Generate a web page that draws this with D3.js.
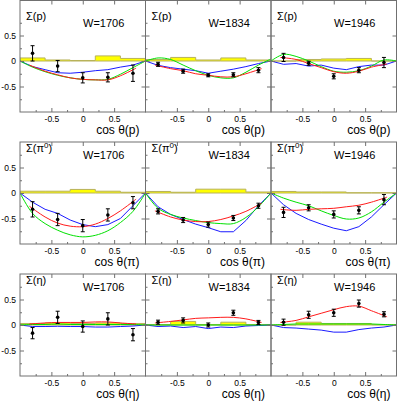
<!DOCTYPE html>
<html>
<head>
<meta charset="utf-8">
<script src="https://cdn.jsdelivr.net/npm/d3@7"></script>
<style>
  body { margin: 0; background: #fff; }
  text { font-family: "Liberation Sans", Arial, sans-serif; fill: #000; }
</style>
</head>
<body>
<script>
  'use strict';

  // ---- data ----
  var energies = [1706, 1834, 1946];
  var cosX     = [-0.8, -0.4, 0, 0.4, 0.8];
  var curveX   = [-1, -0.8, -0.6, -0.4, -0.2, 0, 0.2, 0.4, 0.6, 0.8, 1];
  var redX     = [-0.85, -0.6, -0.4, -0.2, 0, 0.2, 0.4, 0.6, 0.85];
  var binEdges = [-1, -0.6, -0.2, 0.2, 0.6, 1];
  var xTickMajor = [-0.5, 0, 0.5];
  var xTickMinor = [-0.75, -0.25, 0.25, 0.75];
  var yTickMajor = [-0.5, 0, 0.5];
  var yTickMinor = [-0.75, -0.25, 0.25, 0.75];

  // Sigma(p)
  var sigmaP = [[0.15, -0.10, -0.33, -0.32, -0.24], [-0.065, -0.20, -0.28, -0.27, -0.18], [0.07, -0.045, -0.30, -0.18, -0.03]];
  var errP   = [[0.15, 0.11, 0.10, 0.09, 0.16], [0.04, 0.04, 0.03, 0.04, 0.05], [0.08, 0.04, 0.05, 0.05, 0.10]];
  var sysP   = [[0.06, 0.02, 0.01, 0.10, 0.05], [0.03, 0.07, 0.02, 0.06, 0.02], [0.0, 0.03, 0.04, 0.05, 0.0]];
  var redP   = [[-0.08, -0.2, -0.27, -0.33, -0.36, -0.37, -0.37, -0.29, -0.14],
                [-0.08, -0.15, -0.19, -0.25, -0.28, -0.31, -0.31, -0.25, -0.15],
                [0.07, 0.03, -0.05, -0.13, -0.21, -0.24, -0.2, -0.12, -0.06]];
  var greenP = [[0, -0.12, -0.21, -0.28, -0.33, -0.36, -0.37, -0.36, -0.26, -0.13, 0],
                [0, 0.06, 0.03, -0.08, -0.19, -0.28, -0.33, -0.33, -0.22, -0.08, 0.04],
                [0, 0.13, 0.09, 0, -0.11, -0.2, -0.22, -0.19, -0.1, 0.02, 0]];
  var blueP  = [[0, -0.11, -0.17, -0.23, -0.24, -0.22, -0.19, -0.17, -0.12, -0.08, 0],
                [0, -0.085, -0.13, -0.16, -0.19, -0.24, -0.2, -0.16, -0.11, -0.05, 0],
                [0, -0.065, -0.05, -0.1, -0.08, -0.14, -0.17, -0.11, -0.08, -0.08, 0]];

  // Sigma(pi0)
  var sigmaPi = [[-0.32, -0.52, -0.64, -0.43, -0.19], [-0.36, -0.53, -0.62, -0.49, -0.25], [-0.38, -0.29, -0.42, -0.34, -0.13]];
  var errPi   = [[0.15, 0.12, 0.12, 0.12, 0.12], [0.05, 0.05, 0.05, 0.05, 0.05], [0.10, 0.06, 0.07, 0.07, 0.10]];
  var sysPi   = [[0.035, 0.035, 0.07, 0.035, 0.015], [0.03, 0.015, 0.075, 0.075, 0.02], [0.03, 0.02, 0.02, 0.005, 0.005]];
  var redPi   = [[-0.26, -0.47, -0.59, -0.65, -0.66, -0.61, -0.5, -0.35, -0.12],
                 [-0.35, -0.47, -0.53, -0.56, -0.56, -0.52, -0.45, -0.36, -0.2],
                 [-0.32, -0.34, -0.32, -0.31, -0.3, -0.27, -0.24, -0.18, -0.08]];
  var greenPi = [[0, -0.4, -0.6, -0.73, -0.82, -0.86, -0.83, -0.74, -0.58, -0.36, 0],
                 [0, -0.3, -0.42, -0.49, -0.54, -0.58, -0.6, -0.6, -0.48, -0.27, 0],
                 [0, -0.1, -0.18, -0.25, -0.35, -0.44, -0.51, -0.49, -0.37, -0.18, 0]];
  var bluePi  = [[0, -0.18, -0.32, -0.4, -0.53, -0.62, -0.66, -0.62, -0.5, -0.25, 0],
                 [0, -0.27, -0.42, -0.52, -0.61, -0.68, -0.76, -0.76, -0.54, -0.25, 0],
                 [0, -0.23, -0.4, -0.52, -0.61, -0.69, -0.74, -0.66, -0.47, -0.23, 0]];

  // Sigma(eta)
  var sigmaEta = [[-0.16, 0.15, -0.03, 0.12, -0.19], [0.055, 0.09, 0.0, 0.24, 0.05], [0.055, 0.20, 0.24, 0.42, 0.21]];
  var errEta   = [[0.11, 0.12, 0.11, 0.12, 0.12], [0.04, 0.05, 0.04, 0.05, 0.04], [0.06, 0.07, 0.07, 0.07, 0.05]];
  var sysEta   = [[0.03, 0.04, 0.03, 0.04, 0.03], [0.01, 0.07, 0.01, 0.055, 0.01], [0.0, 0.055, 0.03, 0.03, 0.005]];
  var redEta   = [[0.02, 0.04, 0.05, 0.05, 0.05, 0.06, 0.06, 0.04, 0.02],
                  [0.04, 0.07, 0.1, 0.13, 0.14, 0.15, 0.15, 0.12, 0.05],
                  [0.05, 0.09, 0.16, 0.23, 0.3, 0.36, 0.37, 0.28, 0.16]];
  var greenEta = [[0, 0.01, 0.01, 0.02, 0.01, 0.01, 0.01, 0.01, 0.01, 0.01, 0],
                  [0, 0, 0, 0, 0, 0, 0, 0, 0, 0, 0],
                  [0, 0.01, 0.02, 0.02, 0.02, 0.02, 0.02, 0.02, 0.02, 0.01, 0]];
  var blueEta  = [[0, -0.03, -0.03, -0.025, -0.03, -0.03, -0.04, -0.04, -0.03, -0.02, 0],
                  [0, -0.03, -0.02, -0.05, -0.03, -0.07, -0.04, -0.05, -0.02, -0.01, 0],
                  [0, -0.05, -0.06, -0.08, -0.1, -0.14, -0.14, -0.09, -0.06, -0.04, 0]];

  var rows = [
    { sig: "p",   axis: "p", sigma: sigmaP,   err: errP,   sys: sysP,   red: redP,   green: greenP,   blue: blueP },
    { sig: "π",   axis: "π", sup: "0", sigma: sigmaPi,  err: errPi,  sys: sysPi,  red: redPi,  green: greenPi,  blue: bluePi },
    { sig: "η",   axis: "η", sigma: sigmaEta, err: errEta, sys: sysEta, red: redEta, green: greenEta, blue: blueEta }
  ];

  // ---- layout ----
  var colLeft = [20, 145.5, 271], panelW = 125.5;
  var rowZero = [61, 193, 325], unit = 51;
  var frameCol = "#707070";

  var svg = d3.select("body").append("svg")
    .attr("width", 407)
    .attr("height", 407);

  rows.forEach(function(row, r){
    energies.forEach(function(w, c){
      var x = d3.scaleLinear().domain([-1, 1]).range([colLeft[c], colLeft[c] + panelW]);
      var y = d3.scaleLinear().domain([-1, 1]).range([rowZero[r] + unit, rowZero[r] - unit]);
      var top = r === 0 ? 0.5 : y(1);
      var bottom = y(-1);
      var g = svg.append("g");

      //clip for the curves
      var clipId = "clip" + r + c;
      svg.append("clipPath").attr("id", clipId)
        .append("rect")
        .attr("x", x(-1)).attr("y", top)
        .attr("width", x(1) - x(-1)).attr("height", bottom - top);
      var inner = g.append("g").attr("clip-path", "url(#" + clipId + ")");

      //systematic band (histogram)
      var bins = binEdges.map(function(e, i){
        return { e: e, v: row.sys[c][Math.min(i, row.sys[c].length - 1)] };
      });
      inner.append("path")
        .datum(bins)
        .attr("fill", "#ffff00")
        .attr("stroke", "#b8b25a")
        .attr("stroke-width", 1)
        .attr("d", d3.area()
          .x(function(d){ return x(d.e); })
          .y0(y(0))
          .y1(function(d){ return y(d.v); })
          .curve(d3.curveStepAfter));

      //model curves
      var line = d3.line()
        .x(function(d){ return x(d[0]); })
        .y(function(d){ return y(d[1]); })
        .curve(d3.curveCatmullRom);
      var lineLin = d3.line()
        .x(function(d){ return x(d[0]); })
        .y(function(d){ return y(d[1]); });

      inner.append("path")
        .datum(d3.zip(curveX, row.blue[c]))
        .attr("fill", "none").attr("stroke", "#1a1aff").attr("stroke-width", 1)
        .attr("d", lineLin);
      inner.append("path")
        .datum(d3.zip(curveX, row.green[c]))
        .attr("fill", "none").attr("stroke", "#00e000").attr("stroke-width", 1)
        .attr("d", line);
      inner.append("path")
        .datum(d3.zip(redX, row.red[c]))
        .attr("fill", "none").attr("stroke", "#ff1a1a").attr("stroke-width", 1)
        .attr("d", line);

      //data points with error bars
      var pts = cosX.map(function(cx, i){
        return { x: cx, y: row.sigma[c][i], e: row.err[c][i] };
      });
      var pg = g.selectAll(".pt" + r + c)
        .data(pts)
        .enter().append("g");
      pg.append("line")
        .attr("x1", function(d){ return x(d.x); })
        .attr("x2", function(d){ return x(d.x); })
        .attr("y1", function(d){ return y(d.y + d.e); })
        .attr("y2", function(d){ return y(d.y - d.e); })
        .attr("stroke", "#000").attr("stroke-width", 1);
      [1, -1].forEach(function(s){
        pg.append("line")
          .attr("x1", function(d){ return x(d.x) - 2; })
          .attr("x2", function(d){ return x(d.x) + 2; })
          .attr("y1", function(d){ return y(d.y + s * d.e); })
          .attr("y2", function(d){ return y(d.y + s * d.e); })
          .attr("stroke", "#000").attr("stroke-width", 1);
      });
      pg.append("circle")
        .attr("cx", function(d){ return x(d.x); })
        .attr("cy", function(d){ return y(d.y); })
        .attr("r", 1.8)
        .attr("fill", "#000");

      //axes (ticks point inward)
      function styleAxis(sel){
        sel.select(".domain").remove();
        sel.selectAll("line").attr("stroke", frameCol);
        sel.selectAll("text").attr("font-size", "8.5px").attr("fill", "#000");
      }
      g.append("g")
        .attr("transform", "translate(0," + bottom + ")")
        .call(d3.axisBottom(x).tickValues(xTickMajor).tickSize(-4).tickPadding(4).tickFormat(String))
        .call(styleAxis);
      g.append("g")
        .attr("transform", "translate(0," + bottom + ")")
        .call(d3.axisBottom(x).tickValues(xTickMinor).tickSize(-2).tickFormat(""))
        .call(styleAxis);
      g.append("g")
        .attr("transform", "translate(0," + top + ")")
        .call(d3.axisTop(x).tickValues(xTickMajor).tickSize(-4).tickFormat(""))
        .call(styleAxis);
      g.append("g")
        .attr("transform", "translate(" + x(-1) + ",0)")
        .call(d3.axisLeft(y).tickValues(yTickMajor).tickSize(-4).tickPadding(4)
          .tickFormat(c === 0 ? String : ""))
        .call(styleAxis);
      g.append("g")
        .attr("transform", "translate(" + x(-1) + ",0)")
        .call(d3.axisLeft(y).tickValues(yTickMinor).tickSize(-2).tickFormat(""))
        .call(styleAxis);
      g.append("g")
        .attr("transform", "translate(" + x(1) + ",0)")
        .call(d3.axisRight(y).tickValues(yTickMajor).tickSize(-4).tickFormat(""))
        .call(styleAxis);

      //frame
      g.append("rect")
        .attr("x", x(-1)).attr("y", top)
        .attr("width", x(1) - x(-1)).attr("height", bottom - top)
        .attr("fill", "none").attr("stroke", frameCol).attr("stroke-width", 1);

      //labels
      var sl = g.append("text")
        .attr("x", x(-1) + 6)
        .attr("y", rowZero[r] - 41)
        .attr("font-size", "11px");
      sl.append("tspan").text("Σ(" + row.sig);
      if(row.sup){
        sl.append("tspan").attr("dy", -4).attr("font-size", "8px").text(row.sup);
        sl.append("tspan").attr("dy", 4).text(")");
      } else {
        sl.append("tspan").text(")");
      }

      g.append("text")
        .attr("x", x(-1) + 63)
        .attr("y", rowZero[r] - 34.5)
        .attr("font-size", "11px")
        .text("W=" + w);

      g.append("text")
        .attr("x", x(1) - 6)
        .attr("y", bottom + 21.5)
        .attr("text-anchor", "end")
        .attr("font-size", "12px")
        .text("cos θ(" + row.axis + ")");
    });
  });
</script>
</body>
</html>
